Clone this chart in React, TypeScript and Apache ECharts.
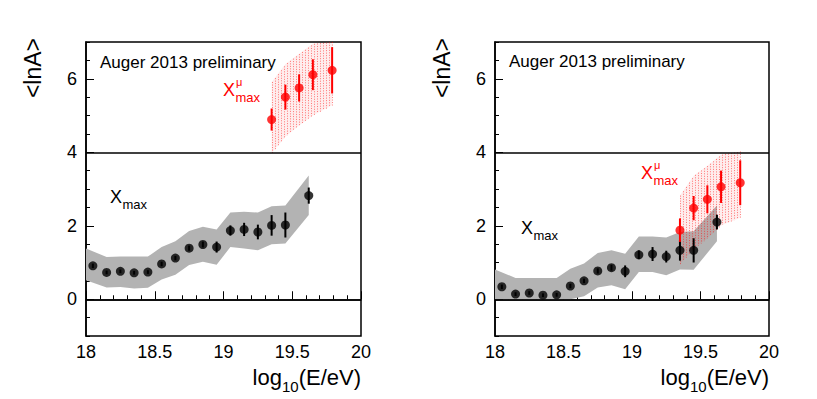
import React, { useEffect, useRef } from "react";
import * as echarts from "echarts";

// ---- data ----
const energy = [18.05, 18.15, 18.25, 18.35, 18.45, 18.55, 18.65, 18.75, 18.85, 18.95, 19.05, 19.15, 19.25, 19.35, 19.45, 19.62];

const leftXmax = [0.91, 0.73, 0.76, 0.72, 0.74, 0.96, 1.12, 1.39, 1.49, 1.42, 1.87, 1.9, 1.83, 2.01, 2.02, 2.82];
const leftXmaxErr = [0.06, 0.05, 0.05, 0.05, 0.05, 0.06, 0.06, 0.07, 0.08, 0.15, 0.14, 0.18, 0.2, 0.28, 0.34, 0.22];
const rightXmax = [0.34, 0.14, 0.17, 0.11, 0.12, 0.36, 0.5, 0.77, 0.86, 0.76, 1.21, 1.23, 1.16, 1.33, 1.33, 2.1];
const rightXmaxErr = [0.06, 0.05, 0.05, 0.05, 0.05, 0.06, 0.06, 0.07, 0.08, 0.16, 0.12, 0.19, 0.16, 0.28, 0.33, 0.2];

const bandEnergy = [18.0, 18.15, 18.25, 18.35, 18.45, 18.55, 18.65, 18.75, 18.85, 18.95, 19.05, 19.15, 19.25, 19.35, 19.45, 19.62];
const leftBandUpper = [1.38, 1.15, 1.16, 1.16, 1.16, 1.42, 1.58, 1.86, 1.97, 1.9, 2.36, 2.38, 2.36, 2.53, 2.55, 3.37];
const leftBandLower = [0.52, 0.32, 0.33, 0.29, 0.31, 0.54, 0.67, 0.93, 1.02, 0.94, 1.42, 1.38, 1.33, 1.5, 1.52, 2.29];
const rightBandUpper = [0.81, 0.58, 0.58, 0.58, 0.58, 0.83, 0.97, 1.26, 1.33, 1.24, 1.71, 1.71, 1.68, 1.83, 1.85, 2.55];
const rightBandLower = [0.0, 0.0, 0.0, 0.0, 0.0, 0.0, 0.08, 0.32, 0.38, 0.27, 0.74, 0.74, 0.65, 0.81, 0.8, 1.58];

const muEnergy = [19.35, 19.45, 19.55, 19.65, 19.79];
const leftMu = [4.89, 5.5, 5.75, 6.11, 6.23];
const leftMuErr = [0.3, 0.34, 0.37, 0.42, 0.63];
const rightMu = [1.88, 2.48, 2.72, 3.06, 3.17];
const rightMuErr = [0.32, 0.33, 0.38, 0.44, 0.61];

const leftMuBandUpper = [5.91, 6.4, 6.68, 6.95, 7.0];
const leftMuBandLower = [3.98, 4.42, 4.73, 5.0, 5.28];
const rightMuBandUpper = [2.82, 3.36, 3.63, 3.93, 4.02];
const rightMuBandLower = [0.95, 1.37, 1.65, 2.01, 2.22];

const yTickLabels = [0, 2, 4, 6];
const referenceLines = [0, 4];

const FONT = "Liberation Sans, Arial, Helvetica, sans-serif";

function measure(text: string, size: number): number {
  const c = document.createElement("canvas");
  const ctx = c.getContext("2d");
  if (!ctx) return text.length * size * 0.55;
  ctx.font = `${size}px ${FONT}`;
  return ctx.measureText(text).width;
}

function bandSeries(gi: number, xs: number[], up: number[], lo: number[], fill: string) {
  return {
    type: "custom",
    xAxisIndex: gi,
    yAxisIndex: gi * 2,
    silent: true,
    z: 1,
    data: [[xs[0], up[0]]],
    encode: { x: 0, y: 1 },
    renderItem: (_p: any, api: any) => {
      const top = xs.map((x, i) => api.coord([x, up[i]]));
      const bot = xs.map((x, i) => api.coord([x, lo[i]])).reverse();
      return { type: "polygon", shape: { points: top.concat(bot) }, style: { fill } };
    },
  };
}

function hatchSeries(gi: number, xs: number[], up: number[], lo: number[]) {
  return {
    type: "custom",
    xAxisIndex: gi,
    yAxisIndex: gi * 2,
    silent: true,
    z: 2,
    data: [[xs[0], up[0]]],
    encode: { x: 0, y: 1 },
    renderItem: (_p: any, api: any) => {
      const top = xs.map((x, i) => api.coord([x, up[i]]));
      const bot = xs.map((x, i) => api.coord([x, lo[i]]));
      const children: any[] = [];
      children.push({
        type: "polygon",
        shape: { points: top.concat(bot.slice().reverse()) },
        style: { fill: "rgba(255,0,0,0.07)" },
      });
      const x0 = top[0][0];
      const x1 = top[top.length - 1][0];
      for (let px = x0; px <= x1 + 0.01; px += 3) {
        let k = 0;
        while (k < top.length - 2 && px > top[k + 1][0]) k++;
        const t = (px - top[k][0]) / (top[k + 1][0] - top[k][0]);
        const yt = top[k][1] + t * (top[k + 1][1] - top[k][1]);
        const yb = bot[k][1] + t * (bot[k + 1][1] - bot[k][1]);
        const xx = Math.round(px) + 0.5;
        children.push({
          type: "line",
          shape: { x1: xx, y1: yt, x2: xx, y2: yb },
          style: { stroke: "rgba(255,0,0,0.5)", lineWidth: 1, lineDash: [1, 1.5] },
        });
      }
      return { type: "group", children };
    },
  };
}

function errSeries(gi: number, xs: number[], ys: number[], es: number[], color: string, z: number) {
  return {
    type: "custom",
    xAxisIndex: gi,
    yAxisIndex: gi * 2,
    silent: true,
    z,
    data: xs.map((x, i) => [x, ys[i], es[i]]),
    encode: { x: 0, y: 1 },
    renderItem: (_p: any, api: any) => {
      const x = api.value(0);
      const y = api.value(1);
      const e = api.value(2);
      const a = api.coord([x, y - e]);
      const b = api.coord([x, y + e]);
      return {
        type: "line",
        shape: { x1: a[0], y1: a[1], x2: b[0], y2: b[1] },
        style: { stroke: color, lineWidth: 2 },
      };
    },
  };
}

function pointSeries(gi: number, xs: number[], ys: number[], color: string, z: number, withLines: boolean) {
  const s: any = {
    type: "scatter",
    xAxisIndex: gi,
    yAxisIndex: gi * 2,
    silent: true,
    z,
    symbol: "circle",
    symbolSize: 9,
    itemStyle: { color },
    data: xs.map((x, i) => [x, ys[i]]),
  };
  if (withLines) {
    s.markLine = {
      silent: true,
      symbol: ["none", "none"],
      label: { show: false },
      lineStyle: { color: "#000", width: 1.5, type: "solid" },
      data: referenceLines.map((v) => ({ yAxis: v })),
    };
  }
  return s;
}

function xAxisFor(gi: number) {
  return {
    type: "value",
    gridIndex: gi,
    min: 18,
    max: 20,
    interval: 0.5,
    axisLine: { show: true, lineStyle: { color: "#000", width: 1.5 } },
    axisTick: { show: true, inside: true, length: 8, lineStyle: { color: "#000", width: 1 } },
    minorTick: { show: true, splitNumber: 5, length: 4, lineStyle: { color: "#000", width: 1 } },
    axisLabel: { color: "#000", fontSize: 18, fontFamily: FONT, margin: 7 },
    splitLine: { show: false },
  };
}

function yAxesFor(gi: number) {
  return [
    {
      type: "value",
      gridIndex: gi,
      position: "left",
      min: -1,
      max: 7,
      interval: 0.5,
      axisLine: { show: true, lineStyle: { color: "#000", width: 1.5 } },
      axisTick: { show: true, inside: true, length: 4, lineStyle: { color: "#000", width: 1 } },
      axisLabel: { show: true, customValues: yTickLabels, color: "#000", fontSize: 18, fontFamily: FONT, margin: 9 },
      splitLine: { show: false },
    },
    {
      type: "value",
      gridIndex: gi,
      position: "left",
      offset: 0,
      min: -1,
      max: 7,
      axisLine: { show: false },
      axisTick: { show: true, inside: true, length: 8, customValues: yTickLabels, lineStyle: { color: "#000", width: 1 } },
      axisLabel: { show: false },
      splitLine: { show: false },
    },
  ];
}

function xTitle(right: number): any[] {
  const w1 = measure("log", 22);
  const w2 = measure("10", 15);
  const w3 = measure("(E/eV)", 22);
  const x0 = right - (w1 + w2 + w3);
  const st = { fill: "#000", fontFamily: FONT };
  return [
    { type: "text", x: x0, y: 377, style: { ...st, text: "log", fontSize: 22, align: "left", verticalAlign: "middle" } },
    { type: "text", x: x0 + w1, y: 386, style: { ...st, text: "10", fontSize: 15, align: "left", verticalAlign: "middle" } },
    { type: "text", x: x0 + w1 + w2, y: 377, style: { ...st, text: "(E/eV)", fontSize: 22, align: "left", verticalAlign: "middle" } },
  ];
}

function yTitle(x: number): any {
  return {
    type: "text",
    x,
    y: 38,
    rotation: Math.PI / 2,
    style: { text: "<lnA>", fill: "#000", fontFamily: FONT, fontSize: 23, align: "right", verticalAlign: "middle" },
  };
}

function xmaxLabel(x: number, y: number, color: string, mu: boolean): any[] {
  const base = { fill: color, fontFamily: FONT, verticalAlign: "middle", align: "left" };
  const wX = measure("X", 18);
  const out: any[] = [
    { type: "text", x, y, style: { ...base, text: "X", fontSize: 18 } },
    { type: "text", x: x + wX + 0.5, y: y + 7, style: { ...base, text: "max", fontSize: 13 } },
  ];
  if (mu) out.push({ type: "text", x: x + wX + 1, y: y - 8, style: { ...base, text: "\u03bc", fontSize: 11 } });
  return out;
}

export default function App() {
  const ref = useRef<HTMLDivElement>(null);
  useEffect(() => {
    if (!ref.current) return;
    const chart = echarts.init(ref.current, undefined, { renderer: "svg" });
    const option: any = {
      animation: false,
      backgroundColor: "#fff",
      grid: [
        { left: 86, top: 42, width: 275, height: 294, show: true, borderColor: "#000", borderWidth: 1.5, outerBoundsMode: "none" },
        { left: 495, top: 42, width: 274, height: 294, show: true, borderColor: "#000", borderWidth: 1.5, outerBoundsMode: "none" },
      ],
      xAxis: [xAxisFor(0), xAxisFor(1)],
      yAxis: [...yAxesFor(0), ...yAxesFor(1)],
      series: [
        bandSeries(0, bandEnergy, leftBandUpper, leftBandLower, "#b3b3b3"),
        bandSeries(1, bandEnergy, rightBandUpper, rightBandLower, "#b3b3b3"),
        hatchSeries(0, muEnergy, leftMuBandUpper, leftMuBandLower),
        hatchSeries(1, muEnergy, rightMuBandUpper, rightMuBandLower),
        errSeries(0, energy, leftXmax, leftXmaxErr, "#000", 4),
        errSeries(1, energy, rightXmax, rightXmaxErr, "#000", 4),
        pointSeries(0, energy, leftXmax, "#000", 5, true),
        pointSeries(1, energy, rightXmax, "#000", 5, true),
        errSeries(0, muEnergy, leftMu, leftMuErr, "#ff0000", 6),
        errSeries(1, muEnergy, rightMu, rightMuErr, "#ff0000", 6),
        pointSeries(0, muEnergy, leftMu, "#ff0000", 7, false),
        pointSeries(1, muEnergy, rightMu, "#ff0000", 7, false),
      ],
      graphic: {
        elements: [
          { type: "text", x: 100, y: 62, style: { text: "Auger 2013 preliminary", fill: "#000", fontFamily: FONT, fontSize: 17, align: "left", verticalAlign: "middle" } },
          { type: "text", x: 509, y: 61, style: { text: "Auger 2013 preliminary", fill: "#000", fontFamily: FONT, fontSize: 17, align: "left", verticalAlign: "middle" } },
          yTitle(33),
          yTitle(442),
          ...xTitle(361),
          ...xTitle(769),
          ...xmaxLabel(110, 197, "#000", false),
          ...xmaxLabel(223, 90, "#ff0000", true),
          ...xmaxLabel(521, 228, "#000", false),
          ...xmaxLabel(641, 173, "#ff0000", true),
        ],
      },
    };
    chart.setOption(option);
    return () => chart.dispose();
  }, []);
  return (
    <div
      ref={ref}
      style={{ position: "absolute", left: 0, top: 0, width: 817, height: 399, background: "#fff" }}
    />
  );
}
